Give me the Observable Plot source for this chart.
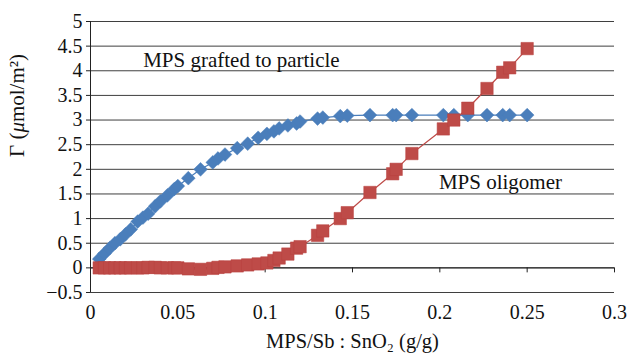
<!DOCTYPE html>
<html><head><meta charset="utf-8">
<script src="https://cdn.jsdelivr.net/npm/d3@7"></script>
<script src="https://cdn.jsdelivr.net/npm/@observablehq/plot@0.6"></script>
<style>body{margin:0;background:#fff}</style>
</head><body><div id="chart"></div>
<script>
const ratio = [0.005,0.008,0.011,0.014,0.017,0.020,0.023,0.027,0.030,0.033,0.037,0.040,0.044,0.048,0.050,0.056,0.063,0.070,0.073,0.077,0.084,0.090,0.096,0.101,0.105,0.108,0.113,0.118,0.120,0.130,0.133,0.143,0.147,0.160,0.173,0.175,0.184,0.202,0.208,0.216,0.227,0.236,0.240,0.250];
const grafted = [0.18,0.29,0.40,0.50,0.58,0.68,0.78,0.94,1.02,1.10,1.25,1.35,1.47,1.60,1.66,1.82,2.00,2.14,2.22,2.30,2.43,2.52,2.64,2.72,2.77,2.83,2.89,2.93,2.97,3.03,3.05,3.08,3.09,3.10,3.10,3.10,3.10,3.10,3.10,3.10,3.10,3.10,3.10,3.10];
const oligomer = [0,0,0,0,0,0,0,0,0,0.01,0.01,0,0,0,0,-0.02,-0.03,-0.01,0.01,0.02,0.04,0.06,0.08,0.10,0.15,0.20,0.28,0.40,0.43,0.66,0.75,1.00,1.12,1.53,1.91,2.00,2.32,2.82,3.00,3.24,3.64,3.97,4.06,4.45];
const xTicks = [0,0.05,0.1,0.15,0.2,0.25,0.3];
const yTicks = [-0.5,0,0.5,1,1.5,2,2.5,3,3.5,4,4.5,5];
const labelText = ["MPS grafted to particle","MPS oligomer"];
const labelX = [0.0864,0.2347];
const labelY = [4.21,1.74];
const xTitle = "MPS/Sb : SnO₂ (g/g)";
const yTitle = "Γ (μmol/m²)";

const blueData = ratio.map((x,i)=>({x, y: grafted[i]}));
const redData = ratio.map((x,i)=>({x, y: oligomer[i]}));
const labels = labelText.map((t,i)=>({t, x: labelX[i], y: labelY[i]}));

const BLUE = "#4A7EBB", RED = "#BE4B48";
const fmt = d => (d < 0 ? "\u2212" : "") + String(Math.abs(d));

const chart = Plot.plot({
  width: 628, height: 356,
  marginLeft: 90, marginRight: 14, marginTop: 21, marginBottom: 64,
  style: {fontFamily: "Liberation Serif", fontSize: "20px", background: "white", color: "#111"},
  x: {domain: [0, 0.3]},
  y: {domain: [-0.5, 5]},
  marks: [
    Plot.gridY(yTicks, {stroke: "#2a2a2a", strokeOpacity: 0.9}),
    Plot.ruleX([0], {stroke: "#222"}),
    Plot.ruleY([0], {stroke: "#222"}),
    Plot.ruleX(xTicks, {x: d=>d, y1: 0, y2: 0, insetBottom: -5, stroke: "#222"}),
    Plot.axisY(yTicks, {tickSize: 4, tickPadding: 4, fontSize: 20, tickFormat: fmt, label: null, stroke: "#222"}),
    Plot.axisX(xTicks, {tickSize: 0, tickPadding: 12, fontSize: 20, tickFormat: fmt, label: null}),
    Plot.text([xTitle], {frameAnchor: "bottom", dy: 55, fontSize: 20.5, fill: "#111"}),
    Plot.text([yTitle], {frameAnchor: "left", dx: -73, rotate: -90, fontSize: 21, fill: "#111"}),
    Plot.line(blueData, {x: "x", y: "y", stroke: BLUE, strokeWidth: 1.2}),
    Plot.dot(blueData, {x: "x", y: "y", symbol: "diamond2", r: 6.2, fill: BLUE, stroke: BLUE, strokeWidth: 0.5}),
    Plot.line(redData, {x: "x", y: "y", stroke: RED, strokeWidth: 1.2}),
    Plot.dot(redData, {x: "x", y: "y", symbol: "square", r: 7, fill: RED, stroke: "#B8413E", strokeWidth: 0.5}),
    Plot.text(labels, {x: "x", y: "y", text: "t", fontSize: 21, fill: "#111"})
  ]
});
document.getElementById("chart").appendChild(chart);
// italic mu in y-axis title
chart.querySelectorAll("text").forEach(t => {
  if (t.textContent.includes("μ") && t.childElementCount === 0) {
    const s = t.textContent; const i = s.indexOf("μ");
    t.textContent = "";
    const ns = "http://www.w3.org/2000/svg";
    const a = document.createElementNS(ns, "tspan"); a.textContent = s.slice(0, i);
    const b = document.createElementNS(ns, "tspan"); b.textContent = "μ"; b.setAttribute("font-style", "italic");
    const c = document.createElementNS(ns, "tspan"); c.textContent = s.slice(i + 1);
    t.append(a, b, c);
  }
});
</script>
</body></html>
